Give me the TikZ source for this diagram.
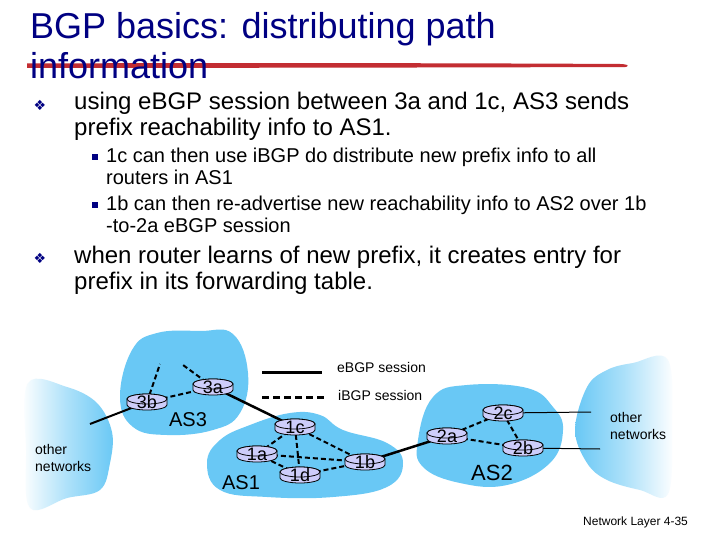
\documentclass[tikz,border=0pt]{standalone}
\usepackage{fontspec}
\setmainfont{Liberation Sans}
\newfontfamily\dvfont{DejaVu Sans}
\usetikzlibrary{shapes.geometric}
\definecolor{cloud}{RGB}{105,200,245}
\definecolor{navy}{RGB}{0,0,130}
\definecolor{rfill}{RGB}{205,205,250}
\definecolor{redline}{RGB}{195,45,50}
\pgfdeclarelayer{bg}
\pgfsetlayers{bg,main}
\tikzset{
  txt/.style={anchor=base west, inner sep=0pt},
  ttl/.style={txt, text=navy, font=\fontsize{36}{36}\selectfont},
  big/.style={txt, font=\fontsize{24}{24}\selectfont},
  mid/.style={txt, font=\fontsize{20}{20}\selectfont},
  sml/.style={txt, font=\fontsize{14}{14}\selectfont},
  bul/.style={inner sep=0pt, text=navy, font=\dvfont\fontsize{14}{14}\selectfont},
  sbul/.style={fill=navy, minimum size=5.5pt, inner sep=0pt},
  rbody/.style={fill=rfill, draw=black, line width=0.8pt},
  rlab/.style={ellipse, inner sep=0pt, minimum width=40pt, minimum height=16pt, font=\fontsize{18}{18}\selectfont},
  aslab/.style={inner sep=0pt, font=\fontsize{20}{20}\selectfont},
  ebgp/.style={line width=2.5pt},
  ibgp/.style={line width=2pt, dash pattern=on 5pt off 3pt},
  thinline/.style={line width=1pt},
  cloudfill/.style={fill=cloud},
}
\newcommand\router[4]{%
  \filldraw[rbody] (#2-20,#3+3) -- (#2-20,#3-3) arc[start angle=180,end angle=360,x radius=20,y radius=5] -- (#2+20,#3+3) arc[start angle=0,end angle=180,x radius=20,y radius=5] -- cycle;
  \draw[rbody] (#2,#3+3) ellipse[x radius=20,y radius=5];
  \node[rlab] (#1) at (#2,#3) {#4};}
\begin{document}
\begin{tikzpicture}[x=1pt,y=1pt]
\begin{pgfonlayer}{bg}
\fill[white] (0,0) rectangle (720,-540);
\end{pgfonlayer}
\useasboundingbox (0,0) rectangle (720,-540);

% title
\fill[redline] (27,-63.5) .. controls (200,-62.8) and (450,-63) .. (620,-64) .. controls (627,-64.2) and (630,-65.5) .. (626,-67) .. controls (450,-67.5) and (200,-68) .. (27,-67.8) -- cycle;
\node[ttl] (t1) at (30,-39) {BGP basics: distributing path};
\node[ttl] (t2) at (30,-79) {information};

% bullets
\node[bul] (b1) at (40,-105) {❖};
\node[big] (l1) at (74,-110) {using eBGP session between 3a and 1c, AS3 sends};
\node[big] (l2) at (74,-136) {prefix reachability info to AS1.};
\node[sbul] (s1) at (95,-157) {};
\node[mid] (l3) at (106,-163) {1c can then use iBGP do distribute new prefix info to all};
\node[mid] (l4) at (106,-185) {routers in AS1};
\node[sbul] (s2) at (95,-205) {};
\node[mid] (l5) at (106,-211) {1b can then re-advertise new reachability info to AS2 over 1b};
\node[mid] (l6) at (106,-233) {-to-2a eBGP session};
\node[bul] (b2) at (40,-258) {❖};
\node[big] (l7) at (74,-263) {when router learns of new prefix, it creates entry for};
\node[big] (l8) at (74,-289) {prefix in its forwarding table.};

% clouds
\begin{pgfonlayer}{bg}
\shade[left color=white, right color=cloud, middle color=cloud!55] plot[smooth cycle, tension=0.6] coordinates {(28,-383) (67,-387) (97,-403) (112,-432) (110,-463) (100,-490) (67,-498) (30,-508) (26,-450)};
\shade[left color=cloud, right color=white, middle color=cloud!55] plot[smooth cycle, tension=0.6] coordinates {(587,-387) (607,-370) (633,-363) (668,-360) (672,-430) (668,-494) (640,-490) (607,-480) (587,-463) (575,-430)};
\fill[cloudfill] plot[smooth cycle, tension=0.7] coordinates {(132,-350) (157,-333) (200,-331) (233,-334) (248,-373) (240,-413) (213,-430) (167,-435) (133,-427) (120,-397)};
\fill[cloudfill] plot[smooth cycle, tension=0.7] coordinates {(207,-463) (220,-440) (250,-425) (290,-413) (320,-415) (343,-430) (387,-443) (403,-463) (387,-487) (333,-497) (267,-497) (220,-490)};
\fill[cloudfill] plot[smooth cycle, tension=0.7] coordinates {(418,-440) (433,-397) (467,-385) (527,-388) (553,-407) (563,-430) (550,-463) (507,-485) (460,-483) (423,-467)};
\end{pgfonlayer}

% routers
\router{r3b}{147}{-402}{3b}
\router{r3a}{213}{-387}{3a}
\router{r1c}{295}{-427}{1c}
\router{r1a}{257}{-454}{1a}
\router{r1d}{300}{-475}{1d}
\router{r1b}{365}{-462}{1b}
\router{r2a}{447}{-436}{2a}
\router{r2c}{503}{-413}{2c}
\router{r2b}{523}{-448}{2b}

\coordinate (o3b) at (90,-424);
\coordinate (u3b) at (160,-364);
\coordinate (u3a) at (183,-365);
\coordinate (o2c) at (591,-412);
\coordinate (o2b) at (600,-449);

\begin{pgfonlayer}{bg}
\draw[line width=2pt] (r3b.center) -- (o3b);
\draw[ibgp] (r3b.center) -- (u3b);
\draw[ibgp] (r3a.center) -- (u3a);
\draw[ibgp] (r3b.center) -- (r3a.center);
\draw[ebgp] (r3a.center) -- (r1c.center);
\draw[ibgp] (r1c.center) -- (r1a.center);
\draw[ibgp] (r1c.center) -- (r1d.center);
\draw[ibgp] (r1c.center) -- (r1b.center);
\draw[ibgp] (r1a.center) -- (r1b.center);
\draw[ibgp] (r1a.center) -- (r1d.center);
\draw[ibgp] (r1d.center) -- (r1b.center);
\draw[ebgp] (r1b.center) -- (r2a.center);
\draw[ibgp] (r2a.center) -- (r2c.center);
\draw[ibgp] (r2a.center) -- (r2b.center);
\draw[ibgp] (r2c.center) -- (r2b.center);
\draw[thinline] (r2c.center) -- (o2c);
\draw[thinline] (r2b.center) -- (o2b);
\end{pgfonlayer}

% AS labels
\node[aslab] (as3) at (188,-420) {AS3};
\node[aslab] (as1) at (241,-483) {AS1};
\node[aslab, font=\fontsize{22}{22}\selectfont] (as2) at (492,-473) {AS2};

% other networks
\node[sml] (on1) at (35,-454) {other};
\node[sml] (on2) at (35,-471) {networks};
\node[sml] (on3) at (610,-422) {other};
\node[sml] (on4) at (610,-439) {networks};

% legend
\coordinate (le1) at (262,-372);
\coordinate (le2) at (322,-372);
\coordinate (li1) at (262,-397);
\coordinate (li2) at (326,-397);
\draw[line width=3pt] (le1) -- (le2);
\draw[line width=3pt, dash pattern=on 7pt off 4pt] (li1) -- (li2);
\node[sml] (leg1) at (337,-372) {eBGP session};
\node[sml] (leg2) at (338,-400) {iBGP session};

% footer
\node[txt, font=\fontsize{12}{12}\selectfont] (ft) at (583,-525) {Network Layer 4-35};
\end{tikzpicture}
\end{document}
